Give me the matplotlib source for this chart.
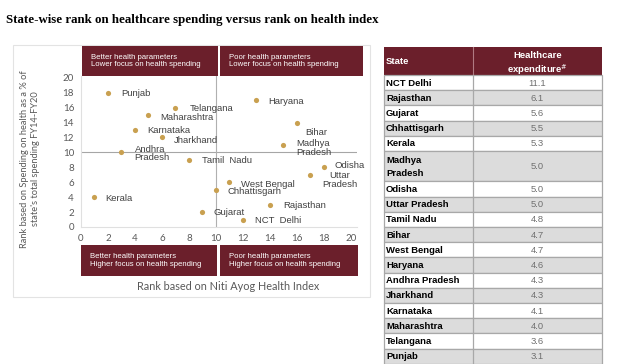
import matplotlib
matplotlib.use("Agg")
import matplotlib.pyplot as plt
from matplotlib.patches import Rectangle

# scatter data: rank on Niti Ayog health index vs rank on health spending
states = ["Punjab", "Telangana", "Maharashtra", "Karnataka", "Jharkhand",
          "Andhra\nPradesh", "Tamil  Nadu", "Kerala", "Haryana", "Bihar",
          "Madhya\nPradesh", "Odisha", "Uttar\nPradesh", "West Bengal",
          "Chhattisgarh", "Gujarat", "Rajasthan", "NCT  Delhi"]
health_rank = [2, 7, 5, 4, 6, 3, 8, 1, 13, 16, 15, 18, 17, 11, 10, 9, 14, 12]
spend_rank = [18, 16, 15, 13, 12, 10, 9, 4, 17, 14, 11, 8, 7, 6, 5, 2, 3, 1]

# table data
table_states = ["NCT Delhi", "Rajasthan", "Gujarat", "Chhattisgarh", "Kerala",
                "Madhya\nPradesh", "Odisha", "Uttar Pradesh", "Tamil Nadu",
                "Bihar", "West Bengal", "Haryana", "Andhra Pradesh",
                "Jharkhand", "Karnataka", "Maharashtra", "Telangana", "Punjab"]
table_spend = [11.1, 6.1, 5.6, 5.5, 5.3, 5.0, 5.0, 5.0, 4.8, 4.7, 4.7, 4.6,
               4.3, 4.3, 4.1, 4.0, 3.6, 3.1]

quad_text = ["Better health parameters\nLower focus on health spending",
             "Poor health parameters\nLower focus on health spending",
             "Better health parameters\nHigher focus on health spending",
             "Poor health parameters\nHigher focus on health spending"]

MAROON = "#6b1f2b"
GOLD = "#c9a050"
W, H = 640, 364

# label offsets in pixels (dx, dy down) and alignment
label_pos = {
    "Punjab": (13, 1, "left"), "Telangana": (14, 1, "left"),
    "Maharashtra": (12, 2, "left"), "Karnataka": (12, 1, "left"),
    "Jharkhand": (12, 3, "left"), "Andhra\nPradesh": (13, 1, "left"),
    "Tamil  Nadu": (13, 1, "left"), "Kerala": (11, 1, "left"),
    "Haryana": (12, 1, "left"), "Bihar": (8, 10, "left"),
    "Madhya\nPradesh": (13, 3, "left"), "Odisha": (11, -2, "left"),
    "Uttar\nPradesh": (29, 5, "center"), "West Bengal": (12, 2, "left"),
    "Chhattisgarh": (12, 2, "left"), "Gujarat": (11, 0, "left"),
    "Rajasthan": (13, 1, "left"), "NCT  Delhi": (12, 1, "left"),
}

fig = plt.figure(figsize=(6.4, 3.64), dpi=100)

# pixel-coordinate overlay for boxes, title and table
bg = fig.add_axes([0, 0, 1, 1])
bg.set_xlim(0, W)
bg.set_ylim(H, 0)
bg.axis("off")

bg.text(6, 20, "State-wise rank on healthcare spending versus rank on health index",
        family="Liberation Serif", fontweight="bold", fontsize=9.3, va="center")

# light frame around chart
bg.add_patch(Rectangle((13, 45), 357, 252, fill=False, ec="#e3e3e3", lw=0.8))

# quadrant boxes
boxes = [(82, 46, 136, 30), (220, 46, 143, 30), (81, 245, 136, 31), (220, 245, 138, 31)]
for (bx, by, bw, bh), t in zip(boxes, quad_text):
    bg.add_patch(Rectangle((bx, by), bw, bh, color=MAROON, lw=0))
    bg.text(bx + 9, by + bh / 2, t, color="white", fontsize=5.6,
            family="Liberation Sans", va="center", linespacing=1.1)

# table
tx0, tx1, tdiv = 384, 602, 473
hy0, hy1 = 47, 75
unit = 15.2
bg.add_patch(Rectangle((tx0, hy0), tx1 - tx0, hy1 - hy0, color=MAROON, lw=0))
bg.plot([tdiv, tdiv], [hy0, hy1], color="#b07a82", lw=0.8)
bg.text(tx0 + 2, (hy0 + hy1) / 2 + 1, "State", color="white", fontweight="bold",
        fontsize=6.8, family="Liberation Sans", va="center")
bg.text((tdiv + tx1) / 2, 56, "Healthcare", color="white", fontweight="bold",
        fontsize=6.8, family="Liberation Sans", va="center", ha="center")
bg.text((tdiv + tx1) / 2, 70, r"expenditure$^{\#}$", color="white", fontweight="bold",
        fontsize=6.8, family="Liberation Sans", va="center", ha="center")

y = hy1
for i, (st, v) in enumerate(zip(table_states, table_spend)):
    rh = unit * (2 if "\n" in st else 1)
    fc = "white" if i % 2 == 0 else "#dcdcdc"
    bg.add_patch(Rectangle((tx0, y), tx1 - tx0, rh, fc=fc, ec="#a8a8a8", lw=0.9))
    bg.plot([tdiv, tdiv], [y, y + rh], color="#a8a8a8", lw=0.9)
    bg.text(tx0 + 2, y + rh / 2 + 0.5, st, fontweight="bold", fontsize=6.8,
            family="Liberation Sans", va="center", color="black", linespacing=1.6)
    bg.text((tdiv + tx1) / 2, y + rh / 2 + 0.5, f"{v:.1f}", fontsize=6.8,
            family="Liberation Sans", va="center", ha="center", color="#707070")
    y += rh

# scatter axes
ax = fig.add_axes([81 / W, 1 - 227 / H, 276 / W, 151.5 / H])
ax.set_xlim(0, 20.45)
ax.set_ylim(0, 20.3)
ax.patch.set_alpha(0)
ax.axhline(10, color="#a6a6a6", lw=0.8, zorder=1)
ax.axvline(10, color="#b0b0b0", lw=0.8, zorder=1)
ax.scatter(health_rank, spend_rank, s=14, color=GOLD, zorder=3, lw=0)
for name, xv, yv in zip(states, health_rank, spend_rank):
    dx, dy, ha = label_pos[name]
    ax.annotate(name, (xv, yv), xytext=(dx, -dy), textcoords="offset pixels",
                ha=ha, va="center", fontsize=6.8, family="Liberation Sans",
                color="#404040", linespacing=0.95, zorder=2)

ax.set_xticks(range(0, 21, 2))
ax.set_yticks(range(0, 21, 2))
ax.tick_params(length=0, labelsize=7, labelcolor="#595959", pad=5)
for lab in ax.get_xticklabels() + ax.get_yticklabels():
    lab.set_family("Lato")
for side in ["top", "right"]:
    ax.spines[side].set_visible(False)
for side in ["left", "bottom"]:
    ax.spines[side].set_color("#e0e0e0")
    ax.spines[side].set_linewidth(0.8)

bg.text(228, 287, "Rank based on Niti Ayog Health Index", family="Lato",
        fontsize=7.8, color="#595959", ha="center", va="center")
bg.text(30, 159, "Rank based on Spending on health as a % of\nstate's total spending FY14-FY20",
        family="Lato", fontsize=6.7, color="#595959", ha="center", va="center",
        rotation=90, linespacing=1.15)

fig.savefig("out.png", dpi=100)
